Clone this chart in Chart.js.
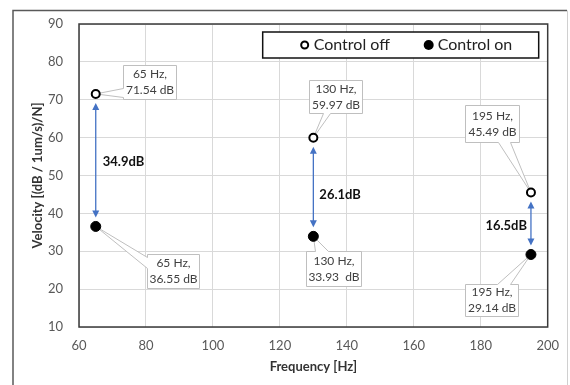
<!DOCTYPE html>
<html>
<head>
<meta charset="utf-8">
<script src="https://cdn.jsdelivr.net/npm/chart.js@4.4.1/dist/chart.umd.min.js"></script>
<style>
  html, body { margin: 0; padding: 0; background: #fff; }
  #wrap { width: 570px; height: 385px; position: relative; }
</style>
</head>
<body>
<div id="wrap"><canvas id="canvas" width="570" height="385"></canvas></div>
<script>
// Data
const freqs = [65, 130, 195];
const offValues = [71.54, 59.97, 45.49];
const onValues = [36.55, 33.93, 29.14];
const offNotes = [['65 Hz,', '71.54 dB'], ['130 Hz,', '59.97 dB'], ['195 Hz,', '45.49 dB']];
const onNotes = [['65 Hz,', '36.55 dB'], ['130 Hz,', '33.93  dB'], ['195 Hz,', '29.14 dB']];
const diffLabels = ['34.9dB', '26.1dB', '16.5dB'];
const seriesNames = ['Control off', 'Control on'];

const FONT = 'Lato, "Open Sans", sans-serif';

// Callout boxes: offset from the point (px), size, and where the pointer leaves the box
const offBoxes = [
  { dx: 27, dy: -29, w: 53, h: 34, edge: 'left', a: 23, b: 32 },
  { dx: -4, dy: -58, w: 53, h: 33, edge: 'bottom', a: 14, b: 21 },
  { dx: -66, dy: -88, w: 54, h: 37, edge: 'bottom', a: 33, b: 45 }
];
const onBoxes = [
  { dx: 51, dy: 28, w: 52, h: 34, edge: 'left', a: 3, b: 14 },
  { dx: -7, dy: 15, w: 55, h: 35, edge: 'top', a: 9, b: 22 },
  { dx: -66, dy: 29, w: 53, h: 32, edge: 'top', a: 32, b: 45 }
];
// Difference labels: offset from the arrow midpoint
const diffPlace = [
  { dx: 7, dy: 2, align: 'left' },
  { dx: 6, dy: 8, align: 'left' },
  { dx: -4, dy: 2, align: 'right' }
];

function calloutPath(ctx, L, T, w, h, edge, a, b, tx, ty) {
  const R = L + w, B = T + h;
  ctx.beginPath();
  ctx.moveTo(L, T);
  if (edge === 'top') { ctx.lineTo(L + a, T); ctx.lineTo(tx, ty); ctx.lineTo(L + b, T); }
  ctx.lineTo(R, T);
  ctx.lineTo(R, B);
  if (edge === 'bottom') { ctx.lineTo(L + b, B); ctx.lineTo(tx, ty); ctx.lineTo(L + a, B); }
  ctx.lineTo(L, B);
  if (edge === 'left') { ctx.lineTo(L, T + b); ctx.lineTo(tx, ty); ctx.lineTo(L, T + a); }
  ctx.closePath();
}

function arrowHead(ctx, x, y, dir) {
  ctx.beginPath();
  ctx.moveTo(x, y);
  ctx.lineTo(x - 3.5, y - dir * 7);
  ctx.lineTo(x + 3.5, y - dir * 7);
  ctx.closePath();
  ctx.fill();
}

const framePlugin = {
  id: 'frame',
  beforeDraw(chart) {
    const ctx = chart.ctx;
    ctx.save();
    ctx.lineWidth = 1.5;
    ctx.strokeStyle = '#595959';
    ctx.beginPath();
    ctx.moveTo(13, 400);
    ctx.lineTo(13, 10.5);
    ctx.lineTo(567, 10.5);
    ctx.stroke();
    ctx.strokeStyle = '#d0d0d0';
    ctx.lineWidth = 1;
    ctx.beginPath();
    ctx.moveTo(567.5, 10.5);
    ctx.lineTo(567.5, 400);
    ctx.stroke();
    ctx.restore();
  },
  beforeDatasetsDraw(chart) {
    const ctx = chart.ctx;
    const xs = chart.scales.x, ys = chart.scales.y;
    const ca = chart.chartArea;
    ctx.save();
    // plot border
    ctx.strokeStyle = '#3a3a3a';
    ctx.lineWidth = 1.5;
    ctx.strokeRect(ca.left, ca.top, ca.right - ca.left, ca.bottom - ca.top);

    // arrows between the two series
    ctx.strokeStyle = '#4472C4';
    ctx.fillStyle = '#4472C4';
    ctx.lineWidth = 1.3;
    freqs.forEach((f, i) => {
      const x = xs.getPixelForValue(f);
      const y1 = ys.getPixelForValue(offValues[i]) + 9;
      const y2 = ys.getPixelForValue(onValues[i]) - 9;
      ctx.beginPath();
      ctx.moveTo(x, y1 + 5);
      ctx.lineTo(x, y2 - 5);
      ctx.stroke();
      arrowHead(ctx, x, y1, -1);
      arrowHead(ctx, x, y2, 1);
      const p = diffPlace[i];
      ctx.fillStyle = '#111';
      ctx.font = 'bold 13px ' + FONT;
      ctx.textAlign = p.align;
      ctx.textBaseline = 'middle';
      ctx.fillText(diffLabels[i], x + p.dx, (y1 + y2) / 2 + p.dy);
      ctx.fillStyle = '#4472C4';
    });

    // callouts
    const drawCallouts = (vals, notes, boxes) => {
      vals.forEach((v, i) => {
        const px = xs.getPixelForValue(freqs[i]);
        const py = ys.getPixelForValue(v);
        const bx = boxes[i];
        const L = Math.round(px + bx.dx) + 0.5, T = Math.round(py + bx.dy) + 0.5;
        calloutPath(ctx, L, T, bx.w, bx.h, bx.edge, bx.a, bx.b, px, py);
        ctx.fillStyle = '#fff';
        ctx.fill();
        ctx.strokeStyle = '#bfbfbf';
        ctx.lineWidth = 1;
        ctx.stroke();
        ctx.fillStyle = '#404040';
        ctx.font = '12px ' + FONT;
        ctx.textAlign = 'center';
        ctx.textBaseline = 'middle';
        const cx = L + bx.w / 2, cy = T + bx.h / 2;
        ctx.fillText(notes[i][0], cx, cy - 8);
        ctx.fillText(notes[i][1], cx, cy + 8);
      });
    };
    drawCallouts(offValues, offNotes, offBoxes);
    drawCallouts(onValues, onNotes, onBoxes);
    ctx.restore();
  },
  afterDraw(chart) {
    // legend box inside the plot area
    const ctx = chart.ctx;
    const ca = chart.chartArea;
    const L = ca.right - 285, T = ca.top + 8, W = 276, H = 26;
    ctx.save();
    ctx.fillStyle = '#fff';
    ctx.fillRect(L, T, W, H);
    ctx.strokeStyle = '#111';
    ctx.lineWidth = 1.5;
    ctx.strokeRect(L, T, W, H);
    const cy = T + H / 2;
    ctx.font = '16px ' + FONT;
    ctx.textAlign = 'left';
    ctx.textBaseline = 'middle';
    ctx.fillStyle = '#222';
    // Control off
    ctx.beginPath();
    ctx.arc(L + 42, cy, 3.5, 0, Math.PI * 2);
    ctx.strokeStyle = '#000';
    ctx.lineWidth = 2;
    ctx.stroke();
    ctx.fillText(seriesNames[0], L + 51, cy);
    // Control on
    ctx.beginPath();
    ctx.arc(L + 166, cy, 5, 0, Math.PI * 2);
    ctx.fillStyle = '#000';
    ctx.fill();
    ctx.fillStyle = '#222';
    ctx.fillText(seriesNames[1], L + 175, cy);
    ctx.restore();
  }
};

const ctx = document.getElementById('canvas').getContext('2d');
const chart = new Chart(ctx, {
  type: 'scatter',
  data: {
    datasets: [
      {
        label: seriesNames[0],
        data: freqs.map((f, i) => ({ x: f, y: offValues[i] })),
        pointRadius: 4,
        pointBackgroundColor: '#fff',
        pointBorderColor: '#000',
        pointBorderWidth: 2
      },
      {
        label: seriesNames[1],
        data: freqs.map((f, i) => ({ x: f, y: onValues[i] })),
        pointRadius: 5,
        pointBackgroundColor: '#000',
        pointBorderColor: '#000',
        pointBorderWidth: 1
      }
    ]
  },
  options: {
    responsive: false,
    animation: false,
    layout: { padding: { left: 13, top: 24, right: 22, bottom: 0 } },
    plugins: {
      legend: { display: false },
      tooltip: { enabled: false }
    },
    scales: {
      x: {
        type: 'linear',
        min: 60,
        max: 200,
        afterFit: (s) => { s.height = 58; },
        grid: { color: '#d9d9d9', drawTicks: false },
        border: { display: false },
        ticks: { stepSize: 20, padding: 11, color: '#595959', font: { family: FONT, size: 13 } },
        title: {
          display: true,
          text: 'Frequency [Hz]',
          color: '#333',
          font: { family: FONT, size: 13, weight: 'bold' },
          padding: { top: 10, bottom: 10 }
        }
      },
      y: {
        min: 10,
        max: 90,
        afterFit: (s) => { s.width = 66; },
        grid: { color: '#d9d9d9', drawTicks: false },
        border: { display: false },
        ticks: { stepSize: 10, padding: 16, color: '#595959', font: { family: FONT, size: 13 } },
        title: {
          display: true,
          text: 'Velocity [(dB / 1um/s)/N]',
          color: '#333',
          font: { family: FONT, size: 13, weight: 'bold' },
          padding: { top: 17, bottom: 17 }
        }
      }
    }
  },
  plugins: [framePlugin]
});
</script>
</body>
</html>
